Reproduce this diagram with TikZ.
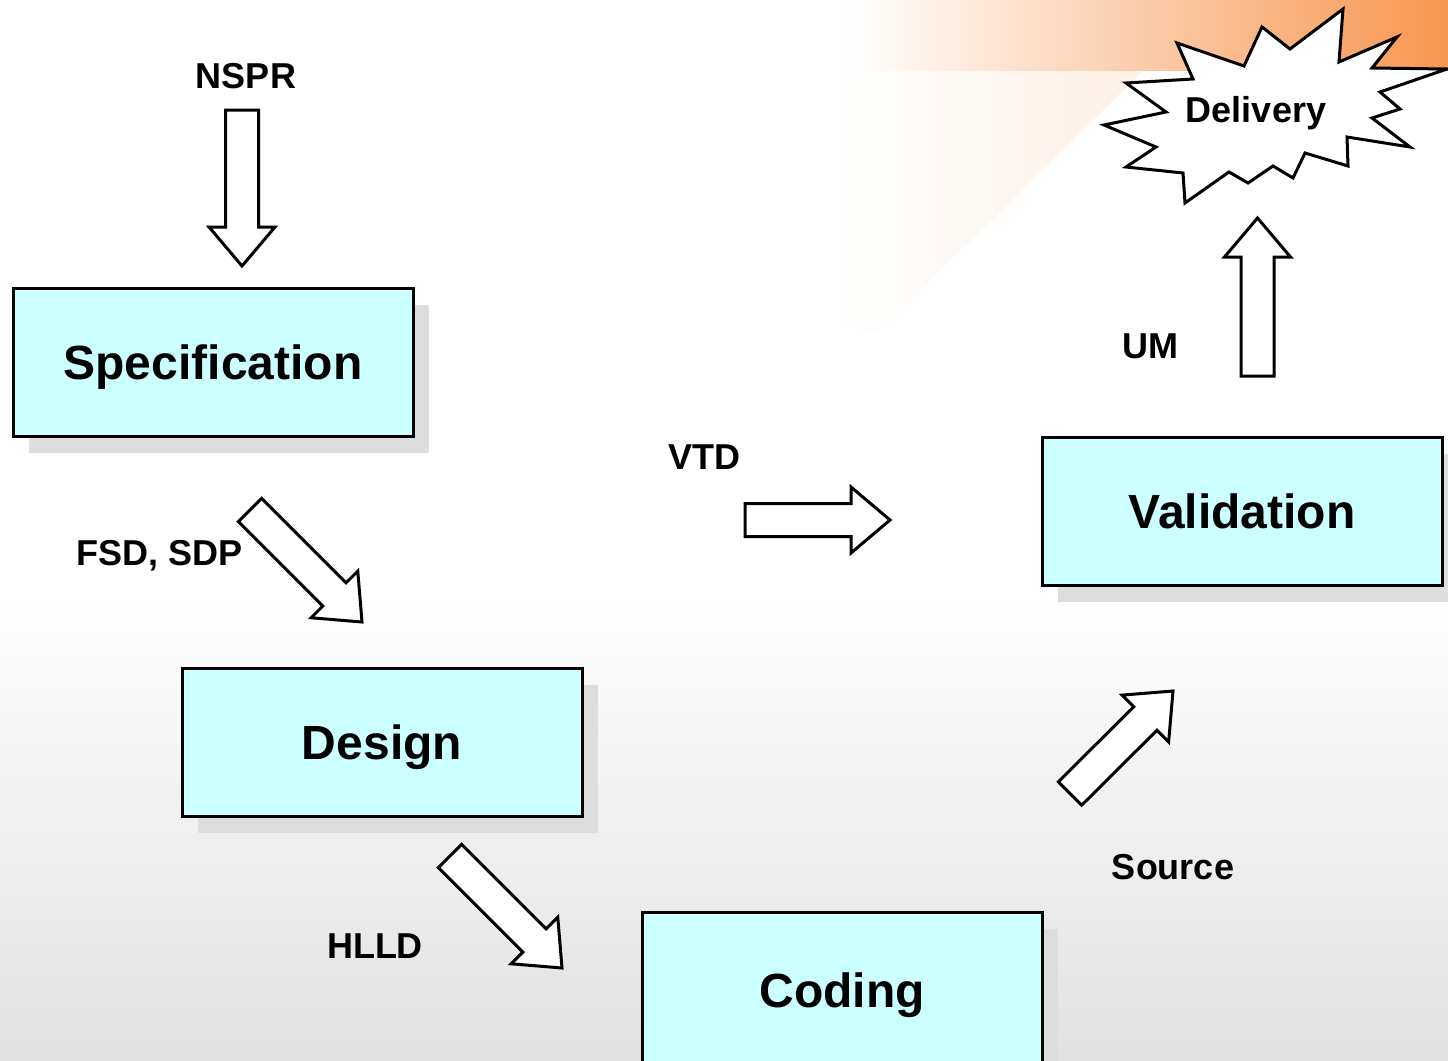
\documentclass[tikz,border=0pt]{standalone}
\usepackage{fontspec}
\setmainfont{Liberation Sans}
\usetikzlibrary{calc}
\usetikzlibrary{positioning}
\usetikzlibrary{shadows}

\definecolor{stagecyan}{RGB}{204,255,255}
\definecolor{shadowgray}{RGB}{221,221,221}
\definecolor{bandorange}{RGB}{247,150,80}
\definecolor{floorgray}{RGB}{225,225,225}

\newcommand{\blockarrow}[2]{%
  \draw[fat arrow] let \p1=($(#2)-(#1)$), \n1={atan2(\y1,\x1)}, \n2={veclen(\x1,\y1)-39} in
    ($(#1)+({\n1+90}:16.5)$) -- ($(#1)+(\n1:\n2)+({\n1+90}:16.5)$) -- ($(#1)+(\n1:\n2)+({\n1+90}:33)$)
    -- (#2) -- ($(#1)+(\n1:\n2)+({\n1-90}:33)$) -- ($(#1)+(\n1:\n2)+({\n1-90}:16.5)$)
    -- ($(#1)+({\n1-90}:16.5)$) -- cycle;}

\begin{document}
\begin{tikzpicture}
  [x=1pt,y=1pt,
   stage/.style={rectangle,draw,line width=3pt,fill=stagecyan,minimum width=400pt,minimum height=148pt,inner sep=0pt,
     font=\fontsize{48}{56}\selectfont\bfseries,text height=34pt,text depth=0pt,
     drop shadow={shadow xshift=16pt,shadow yshift=-16pt,fill=shadowgray,opacity=1}},
   tag/.style={inner sep=0pt,font=\fontsize{36}{43}\selectfont\bfseries,text height=26pt,text depth=0pt},
   fat arrow/.style={draw,line width=3pt,fill=white,line join=miter},
   burst/.style={draw,line width=3pt,fill=white,line join=miter}]
  \useasboundingbox (0,0) rectangle (1448,-1060);
  \clip (0,0) rectangle (1448,-1060);

  % backdrop
  \fill[white] (0,0) rectangle (1448,-1060);
  \shade[top color=white,bottom color=floorgray] (0,-590) rectangle (1448,-1060);
  \shade[left color=white,right color=bandorange!18] (830,0) -- (1215,0) -- (880,-330) -- (830,-330) -- cycle;
  \shade[left color=white,right color=bandorange] (850,0) rectangle (1448,-70);

  \draw[burst] (1343,-9) -- (1339,-62) -- (1397,-37) -- (1372,-68) -- (1447,-69) -- (1380,-92) -- (1400,-109)
    -- (1372,-118) -- (1410,-147) -- (1347,-137) -- (1348,-166) -- (1305,-153) -- (1293,-178) -- (1273,-166)
    -- (1248,-183) -- (1229,-172) -- (1185,-203) -- (1183,-173) -- (1126,-167) -- (1156,-147) -- (1104,-125)
    -- (1166,-112) -- (1126,-83) -- (1193,-79) -- (1177,-43) -- (1244,-66) -- (1262,-27) -- (1290,-49) -- cycle;
  \node[tag] (Delivery) at (1256,-109) {Delivery};

  \node[stage] (Specification) at (213,-362.5) {Specification};
  \node[stage] (Design) [below=229pt of Specification, xshift=169pt] {Design};
  \node[stage, minimum height=156pt] (Coding) [below=93pt of Design, xshift=460pt] {Coding};
  \node[stage] (Validation) [right=626pt of Specification, yshift=-149pt] {Validation};

  \node[tag] (NSPR)   at (246,-75)  {NSPR};
  \node[tag] (FSDSDP) at (160,-552) {FSD, SDP};
  \node[tag] (VTD)    at (704,-456) {VTD};
  \node[tag] (UM)     at (1150,-345) {UM};
  \node[tag] (Source) at (1173,-866) {Source};
  \node[tag] (HLLD)   at (375,-945) {HLLD};

  \coordinate (nsprTail) at (242,-110);
  \coordinate (nsprTip)  at (242,-266);
  \coordinate (fsdTail)  at (250,-510);
  \coordinate (fsdTip)   at (362,-622);
  \coordinate (vtdTail)  at (745,-520);
  \coordinate (vtdTip)   at (890,-520);
  \coordinate (umTail)   at (1257.5,-376);
  \coordinate (umTip)    at (1257.5,-218);
  \coordinate (srcTail)  at (1070,-793.5);
  \coordinate (srcTip)   at (1173,-691);
  \coordinate (hlldTail) at (450,-856);
  \coordinate (hlldTip)  at (562,-968);

  \blockarrow{nsprTail}{nsprTip}
  \blockarrow{fsdTail}{fsdTip}
  \blockarrow{vtdTail}{vtdTip}
  \blockarrow{umTail}{umTip}
  \blockarrow{srcTail}{srcTip}
  \blockarrow{hlldTail}{hlldTip}
\end{tikzpicture}
\end{document}
